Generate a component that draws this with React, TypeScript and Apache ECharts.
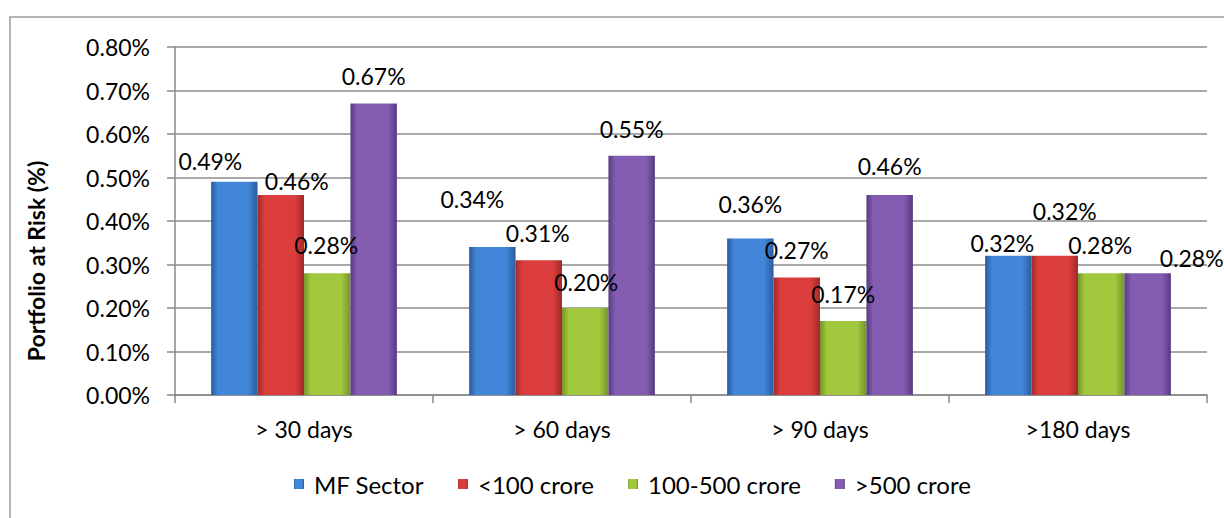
import React, { useEffect, useRef } from "react";
import * as echarts from "echarts";

const categories = ["> 30 days", "> 60 days", "> 90 days", ">180 days"];
const seriesNames = ["MF Sector", "<100 crore", "100-500 crore", ">500 crore"];
const mfSector = [0.49, 0.34, 0.36, 0.32];
const below100 = [0.46, 0.31, 0.27, 0.32];
const between100and500 = [0.28, 0.2, 0.17, 0.28];
const above500 = [0.67, 0.55, 0.46, 0.28];
const yTicks = [0, 0.1, 0.2, 0.3, 0.4, 0.5, 0.6, 0.7, 0.8];

// label nudges (Excel-style placement), per series per category
const labelNudges = [
  [[-24, -4], [-20, -32], [0, -18], [-6, 4]],
  [[16, 3], [-1, -11], [0, -11], [10, -28]],
  [[-1, -12], [1, -10], [0, -11], [-1, -12]],
  [[0, -11], [0, -10], [0, -12], [44, 1]],
];

const palette = [
  { mid: "#4186d8", edge: "#2a5c9e", leg: "#2f6bb5" },
  { mid: "#db3d3c", edge: "#9f2b2a", leg: "#b7312f" },
  { mid: "#a2c83e", edge: "#76952a", leg: "#819f30" },
  { mid: "#845db3", edge: "#573b80", leg: "#62438f" },
];

const FONT = "Lato";

export default function App() {
  const ref = useRef<HTMLDivElement>(null);
  useEffect(() => {
    if (!ref.current) return;
    const chart = echarts.init(ref.current, null, { renderer: "svg" });
    const values = [mfSector, below100, between100and500, above500];
    const series = values.map((vals, si) => ({
      name: seriesNames[si],
      type: "bar",
      barGap: "0%",
      barCategoryGap: "28%",
      itemStyle: {
        color: new echarts.graphic.LinearGradient(0, 0, 1, 0, [
          { offset: 0, color: palette[si].edge },
          { offset: 0.15, color: palette[si].mid },
          { offset: 0.8, color: palette[si].mid },
          { offset: 1, color: palette[si].edge },
        ]),
      },
      data: vals.map((v, ci) => ({
        value: v,
        label: { offset: labelNudges[si][ci] },
      })),
      label: {
        show: true,
        position: "top",
        color: "#000",
        fontFamily: FONT,
        fontSize: 23,
        formatter: (p: any) => p.value.toFixed(2) + "%",
      },
    }));
    chart.setOption({
      animation: false,
      backgroundColor: "#fff",
      color: palette.map((p) => p.leg),
      graphic: [
        {
          type: "rect",
          shape: { x: 10, y: 17, width: 1400, height: 700 },
          style: { fill: "none", stroke: "#9a9a9a", lineWidth: 1.5 },
          silent: true,
        },
        {
          type: "text",
          x: 36,
          y: 261,
          rotation: Math.PI / 2,
          style: {
            text: "Portfolio at Risk (%)",
            fontFamily: FONT,
            fontWeight: "bold",
            fontSize: 23,
            fill: "#000",
            align: "center",
            verticalAlign: "middle",
          },
        },
      ],
      grid: { left: 175, right: 17, top: 47, bottom: 123, containLabel: false },
      legend: {
        left: 289,
        top: 467,
        icon: "rect",
        itemWidth: 10,
        itemHeight: 10,
        itemGap: 34,
        data: seriesNames,
        textStyle: {
          fontFamily: FONT,
          fontSize: 24,
          color: "#000",
          padding: [0, 0, 0, 5],
        },
      },
      xAxis: {
        type: "category",
        data: categories,
        axisLine: { lineStyle: { color: "#888", width: 1.5 } },
        axisTick: { show: true, length: 8, lineStyle: { color: "#888", width: 1.5 } },
        axisLabel: { color: "#000", fontFamily: FONT, fontSize: 23, margin: 22 },
      },
      yAxis: {
        type: "value",
        min: 0,
        max: yTicks[yTicks.length - 1],
        interval: 0.1,
        axisLine: { show: true, lineStyle: { color: "#888", width: 1.5 } },
        axisTick: { show: true, length: 8, lineStyle: { color: "#888", width: 1.5 } },
        splitLine: { lineStyle: { color: "#8c8c8c", width: 1.5 } },
        axisLabel: {
          color: "#000",
          fontFamily: FONT,
          fontSize: 23,
          margin: 25,
          formatter: (v: number) => v.toFixed(2) + "%",
        },
      },
      series,
    });
    return () => chart.dispose();
  }, []);
  return (
    <div
      ref={ref}
      style={{ position: "fixed", left: 0, top: 0, width: 1224, height: 518 }}
    />
  );
}
